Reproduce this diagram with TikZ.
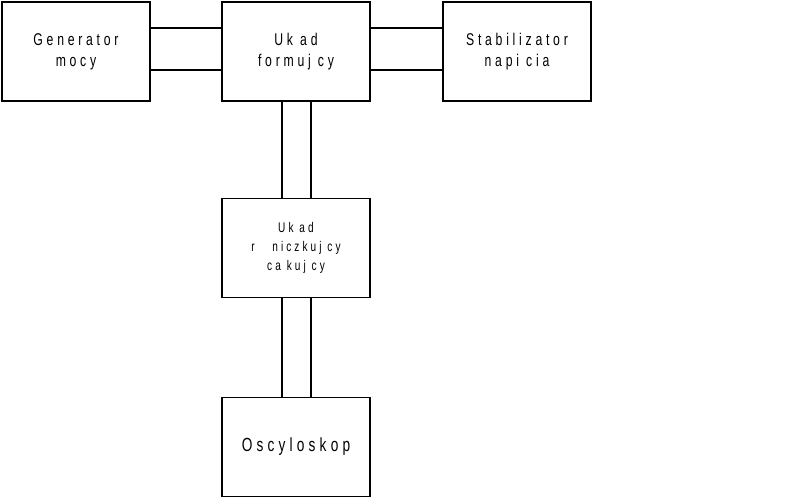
\documentclass[tikz,border=0pt]{standalone}
\usepackage{fontspec}
\setmainfont{Liberation Sans}[FakeStretch=0.72,LetterSpace=22]
\begin{document}
\begin{tikzpicture}[x=1pt,y=-1pt,line width=1.6pt,
  blk/.style={draw,minimum width=148pt,minimum height=99pt,align=center,font=\fontsize{17}{21}\selectfont,inner sep=0pt},
  ln/.style={line width=1.6pt}]
\useasboundingbox (0,0) rectangle (794,498);
\node[blk] (gen) at (76,51.5) {Generator\\mocy};
\node[blk] (uf) at (296,51.5) {Uk ad\\formuj cy};
\node[blk] (st) at (517,51.5) {Stabilizator\\napi cia};
\node[blk,font=\fontsize{14}{19}\selectfont] (ur) at (296,248) {Uk ad\\r \ \ niczkuj cy\\ca kuj cy};
\node[blk,font=\fontsize{19}{23}\selectfont] (osc) at (296,447) {Oscyloskop};
\foreach \y in {28,70}{
  \draw[ln] (gen.east |- 0,\y) -- (uf.west |- 0,\y);
  \draw[ln] (uf.east |- 0,\y) -- (st.west |- 0,\y);}
\foreach \x in {282,311}{
  \draw[ln] (\x,0 |- uf.south) -- (\x,0 |- ur.north);
  \draw[ln] (\x,0 |- ur.south) -- (\x,0 |- osc.north);}
\end{tikzpicture}
\end{document}
